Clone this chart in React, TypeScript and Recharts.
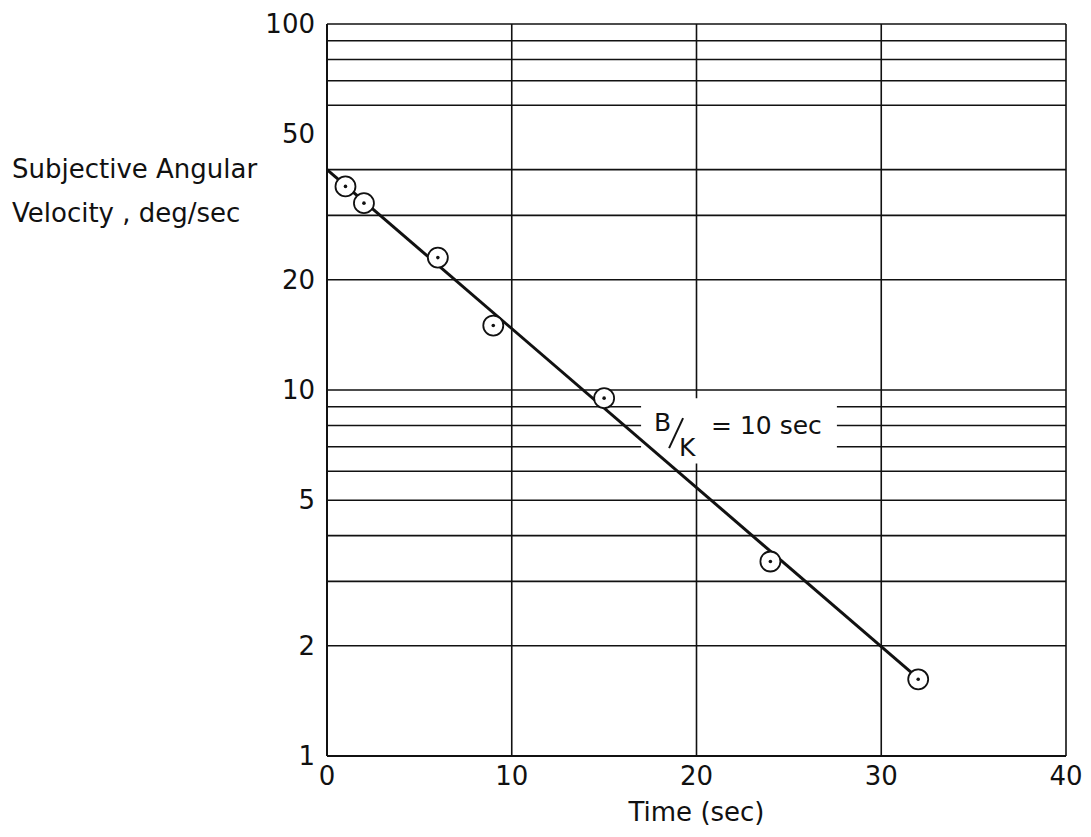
import React from 'react';
import {
  ComposedChart,
  Line,
  Scatter,
  XAxis,
  YAxis,
  CartesianGrid,
  ReferenceArea,
} from 'recharts';

// measured points (time in sec, subjective velocity in deg/sec)
const timeSec = [1, 2, 6, 9, 15, 24, 32];
const velocity = [36, 32.4, 23, 15, 9.5, 3.4, 1.62];

// fitted line end points (B/K = 10 sec)
const fitTime = [0, 32];
const fitVelocity = [40, 1.63];

const xTicks = [0, 10, 20, 30, 40];
const yTicks = [1, 2, 5, 10, 20, 50, 100];
const xGrid = [0, 10, 20, 30, 40];
const yGrid = [1, 2, 3, 4, 5, 6, 7, 8, 9, 10, 20, 30, 40, 60, 70, 80, 90, 100];

const points = timeSec.map((t, i) => ({ t, v: velocity[i] }));
const fit = fitTime.map((t, i) => ({ t, v: fitVelocity[i] }));

const FONT = '"DejaVu Sans", sans-serif';
const INK = '#111';

const Ring = (props: any) => {
  const { cx, cy } = props;
  return (
    <g>
      <circle cx={cx} cy={cy} r={10} fill='#fff' stroke={INK} strokeWidth={1.8} />
      <circle cx={cx} cy={cy} r={1.8} fill={INK} />
    </g>
  );
};

const YTitle = () => (
  <text fontFamily={FONT} fontSize={26} fill={INK}>
    <tspan x={12} y={178}>Subjective Angular</tspan>
    <tspan x={12} y={222}>Velocity , deg/sec</tspan>
  </text>
);

// B/K written as a slanted fraction, slash drawn as a stroke
const BkLabel = (props: any) => {
  const { x, y } = props.viewBox || {};
  return (
    <g fontFamily={FONT} fontSize={25} fill={INK}>
      <text x={x + 13} y={y + 33}>B</text>
      <line
        x1={x + 28}
        y1={y + 50}
        x2={x + 42}
        y2={y + 20}
        stroke={INK}
        strokeWidth={2}
      />
      <text x={x + 38} y={y + 58}>K</text>
      <text x={x + 70} y={y + 36}>= 10 sec</text>
    </g>
  );
};

const App: React.FC = () => {
  return (
    <div style={{ position: 'absolute', left: 0, top: 0, background: '#fff' }}>
      <ComposedChart
        width={1091}
        height={837}
        margin={{ top: 24, right: 25, bottom: 0, left: 0 }}
      >
        <CartesianGrid
          horizontalValues={yGrid}
          verticalValues={xGrid}
          stroke={INK}
          strokeWidth={1.6}
        />
        <XAxis
          dataKey='t'
          type='number'
          domain={[0, 40]}
          ticks={xTicks}
          interval={0}
          height={81}
          tickSize={0}
          tickMargin={11}
          axisLine={{ stroke: INK, strokeWidth: 2 }}
          tick={{ fontSize: 26, fill: INK, fontFamily: FONT }}
          label={{
            value: 'Time (sec)',
            position: 'insideBottom',
            offset: 16,
            fontSize: 26,
            fill: INK,
            fontFamily: FONT,
          }}
        />
        <YAxis
          dataKey='v'
          type='number'
          scale='log'
          domain={[1, 100]}
          allowDataOverflow
          ticks={yTicks}
          interval={0}
          width={327}
          tickSize={0}
          tickMargin={12}
          axisLine={{ stroke: INK, strokeWidth: 2 }}
          tick={{ fontSize: 26, fill: INK, fontFamily: FONT }}
          label={<YTitle />}
        />
        <ReferenceArea
          x1={17}
          x2={27.6}
          y1={6.3}
          y2={9.5}
          fill='#fff'
          fillOpacity={1}
          stroke='none'
          label={<BkLabel />}
        />
        <Line
          data={fit}
          dataKey='v'
          stroke={INK}
          strokeWidth={3}
          dot={false}
          isAnimationActive={false}
        />
        <Scatter
          data={points}
          dataKey='v'
          shape={Ring}
          isAnimationActive={false}
        />
      </ComposedChart>
    </div>
  );
};

export default App;
